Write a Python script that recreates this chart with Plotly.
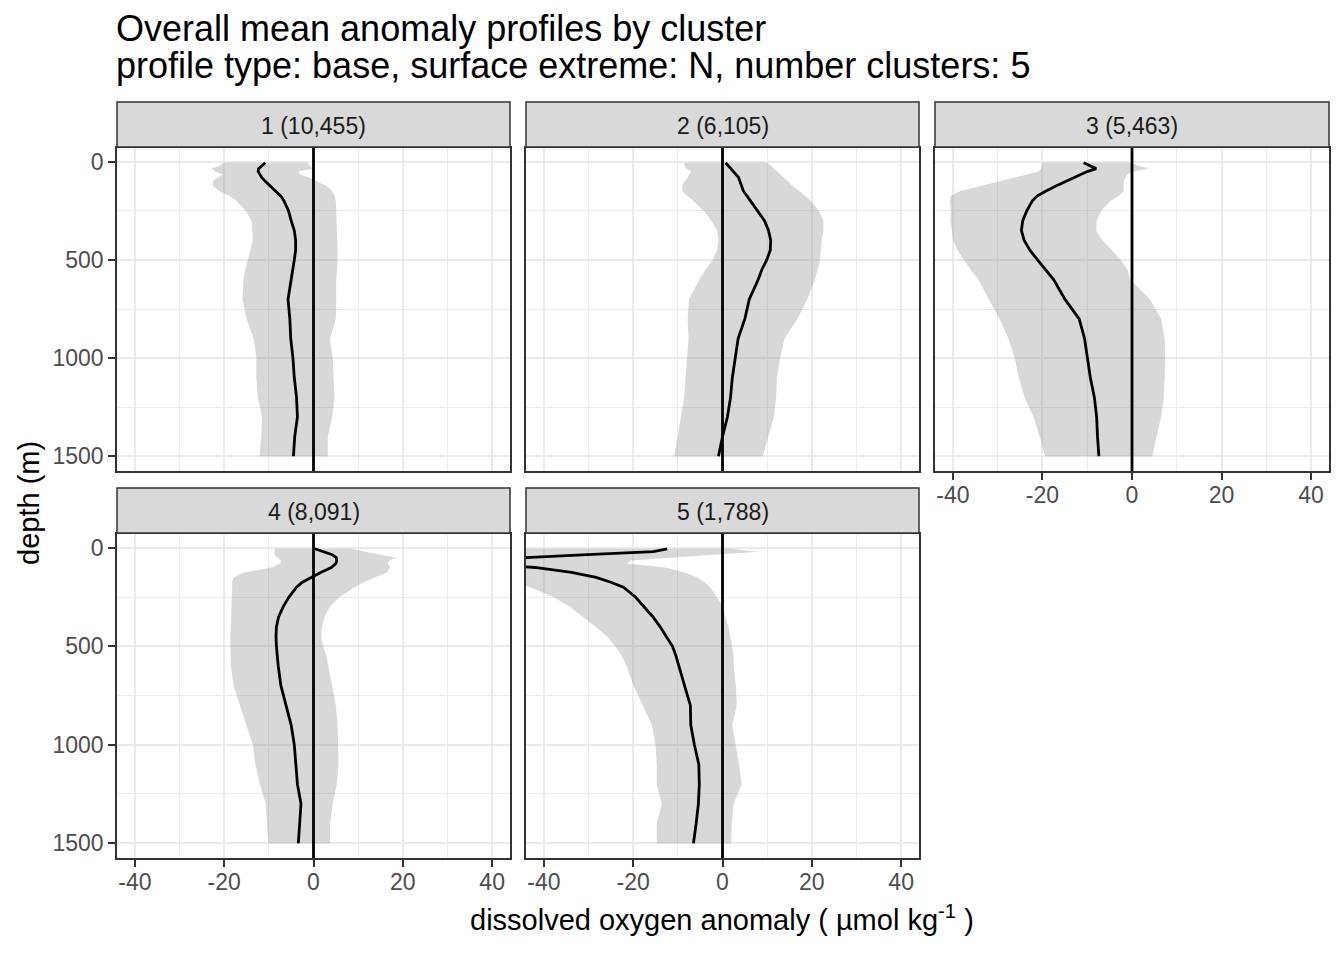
import plotly.graph_objects as go

# depth levels (m) the profiles were read at
depth = [5, 20, 35, 50, 65, 80, 100, 125, 150, 175, 200, 250, 300, 350, 400,
         450, 500, 550, 600, 700, 800, 900, 1000, 1100, 1200, 1300, 1400, 1500]

strip_labels = ['1 (10,455)', '2 (6,105)', '3 (5,463)', '4 (8,091)', '5 (1,788)']

# cluster 1
c1_mean = [-10.8, -11.5, -12.3, -12.4, -12.0, -11.6, -10.8, -9.6, -8.4, -7.3, -6.6, -5.6, -5.0, -4.3,
           -4.0, -4.0, -4.3, -4.6, -5.0, -5.7, -5.3, -5.1, -4.6, -4.3, -3.8, -3.6, -4.2, -4.5]
c1_lo = [-20.1, -21.0, -22.8, -22.0, -20.3, -21.5, -22.6, -22.5, -21.0, -18.8, -17.2, -15.2, -13.9, -13.7,
         -13.6, -14.2, -14.7, -15.3, -15.7, -15.9, -15.0, -13.4, -12.8, -12.8, -12.5, -11.5, -11.7, -12.1]
c1_hi = [-1.3, -0.8, -0.2, -3.3, -3.0, -1.0, 0.8, 3.0, 4.2, 4.7, 5.0, 5.1, 5.1, 5.2,
         5.3, 5.4, 5.4, 5.3, 5.1, 5.1, 5.0, 3.7, 4.3, 4.5, 4.7, 4.2, 3.2, 3.2]

# cluster 2
c2_mean = [0.7, 1.3, 2.0, 2.6, 3.2, 3.6, 3.9, 4.3, 4.7, 5.5, 6.3, 7.9, 9.4, 10.3,
           10.8, 10.7, 9.9, 8.8, 8.0, 6.0, 5.0, 3.5, 2.8, 2.2, 1.8, 1.1, 0.0, -0.9]
c2_lo = [-8.7, -8.5, -8.2, -7.0, -7.5, -7.8, -8.6, -9.0, -9.0, -7.8, -6.5, -4.2, -2.5, -1.2,
         -0.9, -1.2, -2.2, -3.8, -5.2, -7.5, -7.8, -7.6, -8.0, -8.3, -8.6, -9.3, -10.0, -10.8]
c2_hi = [10.1, 10.8, 11.6, 12.2, 13.0, 13.8, 14.6, 15.8, 17.3, 18.6, 19.8, 21.6, 22.6, 22.6,
         22.2, 22.0, 21.8, 21.3, 20.7, 19.0, 16.8, 13.9, 12.9, 12.2, 12.0, 11.5, 10.2, 9.0]

# cluster 3
c3_mean = [-10.8, -9.5, -8.0, -10.0, -11.5, -13.0, -14.7, -17.1, -19.3, -21.2, -22.3, -23.5, -24.4, -24.7,
           -24.1, -22.8, -21.1, -19.3, -17.5, -15.0, -11.8, -10.6, -10.0, -9.3, -8.4, -7.9, -7.7, -7.4]
c3_lo = [-20.1, -20.1, -20.3, -20.8, -23.0, -26.0, -29.5, -34.0, -38.5, -40.5, -40.7, -40.4, -40.6, -40.2,
         -40.0, -39.0, -37.6, -36.0, -34.3, -32.0, -29.6, -27.6, -26.2, -25.3, -24.0, -22.0, -20.6, -19.4]
c3_hi = [0.0, 1.5, 3.7, 0.5, -1.1, -1.5, -1.8, -1.9, -1.9, -3.0, -4.8, -6.9, -7.9, -8.0,
         -6.6, -4.5, -2.5, -1.0, -0.4, 4.0, 6.5, 7.3, 7.4, 7.3, 7.1, 6.5, 5.5, 4.5]

# cluster 4
c4_mean = [0.3, 2.5, 4.2, 5.1, 5.2, 5.0, 4.0, 1.6, -0.5, -2.5, -3.8, -5.5, -6.8, -7.8,
           -8.3, -8.4, -8.3, -8.1, -7.9, -7.3, -6.1, -5.0, -4.3, -4.0, -3.6, -2.8, -3.1, -3.4]
c4_lo = [-8.6, -8.8, -8.7, -8.0, -7.3, -7.4, -9.3, -15.6, -17.8, -18.3, -18.2, -18.2, -18.3, -18.4,
         -18.5, -18.6, -18.6, -18.6, -18.5, -17.9, -16.5, -15.0, -13.6, -13.0, -12.0, -10.7, -10.4, -10.1]
c4_hi = [8.9, 11.5, 15.0, 18.6, 17.0, 16.6, 17.1, 16.5, 13.8, 11.2, 9.2, 5.8, 3.6, 2.5,
         1.9, 1.7, 2.2, 2.9, 3.3, 4.1, 5.0, 5.4, 5.5, 5.6, 5.2, 4.3, 3.7, 3.7]

# cluster 5 (top goes off the left of the axis)
c5_mean = [-12.4, -15.5, -30.2, -45.0, -58.0, -55.0, -42.0, -33.8, -28.3, -25.0, -22.2, -19.5, -17.5, -15.6,
           -14.0, -12.5, -11.2, -10.4, -9.8, -8.5, -7.2, -7.1, -6.3, -5.3, -5.2, -5.4, -5.9, -6.5]
c5_lo = [-60.0, -75.0, -80.0, -85.0, -90.0, -85.0, -75.0, -62.0, -52.0, -47.0, -43.0, -37.9, -34.1, -31.3,
         -28.5, -25.8, -24.0, -22.5, -21.5, -19.9, -17.8, -15.8, -15.0, -14.7, -14.7, -13.6, -14.7, -14.7]
c5_hi = [2.0, 7.9, -2.0, -12.0, -20.5, -21.5, -12.8, -8.5, -5.7, -4.0, -2.8, -1.2, 0.1, 0.6,
         1.3, 1.7, 2.2, 2.5, 2.5, 3.0, 3.2, 2.2, 3.0, 3.7, 4.3, 2.5, 2.1, 1.9]

profiles = [(c1_mean, c1_lo, c1_hi), (c2_mean, c2_lo, c2_hi), (c3_mean, c3_lo, c3_hi),
            (c4_mean, c4_lo, c4_hi), (c5_mean, c5_lo, c5_hi)]

x_ticks = [-40, -20, 0, 20, 40]
y_ticks = [0, 500, 1000, 1500]

W, H = 1344, 960
FONT = 'Liberation Sans, Arial, sans-serif'
cols = [(117, 510), (526, 919), (935, 1329)]
rows = [(148, 471), (534, 858)]
strips = [(102, 147), (488, 533)]
# (row, col) of each facet
pos = [(0, 0), (0, 1), (0, 2), (1, 0), (1, 1)]

fig = go.Figure()
shapes = []
annotations = []

for i, (mean, lo, hi) in enumerate(profiles):
    n = '' if i == 0 else str(i + 1)
    r, c = pos[i]
    fig.add_trace(go.Scatter(
        x=hi + lo[::-1], y=depth + depth[::-1],
        fill='toself', fillcolor='rgba(127,127,127,0.3)',
        mode='lines', line=dict(width=0, color='rgba(0,0,0,0)'),
        xaxis='x' + n, yaxis='y' + n, hoverinfo='skip', showlegend=False))
    fig.add_trace(go.Scatter(
        x=mean, y=depth, mode='lines', line=dict(color='black', width=2.8),
        xaxis='x' + n, yaxis='y' + n, showlegend=False))
    shapes.append(dict(type='line', xref='x' + n, yref='y' + n + ' domain',
                       x0=0, x1=0, y0=0, y1=1, line=dict(color='black', width=2.8)))

    # strip on top of each panel
    s0, s1 = strips[r]
    shapes.append(dict(type='rect', xref='paper', yref='paper',
                       x0=cols[c][0] / W, x1=cols[c][1] / W,
                       y0=1 - s1 / H, y1=1 - s0 / H,
                       fillcolor='#D9D9D9', line=dict(color='#333333', width=1.5)))
    annotations.append(dict(text=strip_labels[i], xref='paper', yref='paper',
                            x=(cols[c][0] + cols[c][1]) / 2 / W, y=1 - (s0 + s1 + 2) / 2 / H,
                            showarrow=False, font=dict(family=FONT, size=23, color='#1A1A1A'),
                            xanchor='center', yanchor='middle'))

    show_x = (i >= 2)
    show_y = (c == 0)
    axis_common = dict(showgrid=True, gridcolor='#EBEBEB', gridwidth=2.4,
                       zeroline=False, showline=True, mirror=True,
                       linecolor='#333333', linewidth=1.5,
                       ticklen=7, tickwidth=1.5, tickcolor='#333333',
                       tickfont=dict(family=FONT, size=23, color='#4D4D4D'))
    fig.layout['xaxis' + n] = dict(
        axis_common, domain=[cols[c][0] / W, cols[c][1] / W], range=[-44, 44],
        anchor='y' + n, tickmode='array', tickvals=x_ticks,
        ticktext=[str(v) for v in x_ticks], ticklabelstandoff=-4,
        minor=dict(tickvals=[-30, -10, 10, 30], showgrid=True,
                   gridcolor='#EBEBEB', gridwidth=1.2, ticks=''),
        ticks='outside' if show_x else '', showticklabels=show_x)
    fig.layout['yaxis' + n] = dict(
        axis_common, domain=[1 - rows[r][1] / H, 1 - rows[r][0] / H], range=[1575, -70],
        anchor='x' + n, tickmode='array', tickvals=y_ticks,
        ticktext=[str(v) for v in y_ticks],
        minor=dict(tickvals=[250, 750, 1250], showgrid=True,
                   gridcolor='#EBEBEB', gridwidth=1.2, ticks=''),
        ticks='outside' if show_y else '', showticklabels=show_y)

# titles
annotations.append(dict(text='Overall mean anomaly profiles by cluster', xref='paper', yref='paper',
                        x=114 / W, y=1 - 28 / H, xanchor='left', yanchor='middle', showarrow=False,
                        font=dict(family=FONT, size=36, color='black')))
annotations.append(dict(text='profile type: base, surface extreme: N, number clusters: 5',
                        xref='paper', yref='paper',
                        x=114 / W, y=1 - 66 / H, xanchor='left', yanchor='middle', showarrow=False,
                        font=dict(family=FONT, size=36, color='black')))
annotations.append(dict(text='dissolved oxygen anomaly ( µmol kg<sup>-1</sup> )', xref='paper', yref='paper',
                        x=722 / W, y=1 - 918 / H, xanchor='center', yanchor='middle', showarrow=False,
                        font=dict(family=FONT, size=29, color='black')))
annotations.append(dict(text='depth (m)', xref='paper', yref='paper', textangle=-90,
                        x=29 / W, y=1 - 503 / H, xanchor='center', yanchor='middle', showarrow=False,
                        font=dict(family=FONT, size=29, color='black')))

fig.update_layout(
    width=W, height=H,
    margin=dict(l=0, r=0, t=0, b=0),
    plot_bgcolor='white', paper_bgcolor='white',
    shapes=shapes, annotations=annotations,
    showlegend=False,
)
# page body has a default 8px margin; drop it so the figure sits at the window corner
fig.write_html("out.html", config={'displayModeBar': False},
               post_script="document.body.style.margin='0px';")
